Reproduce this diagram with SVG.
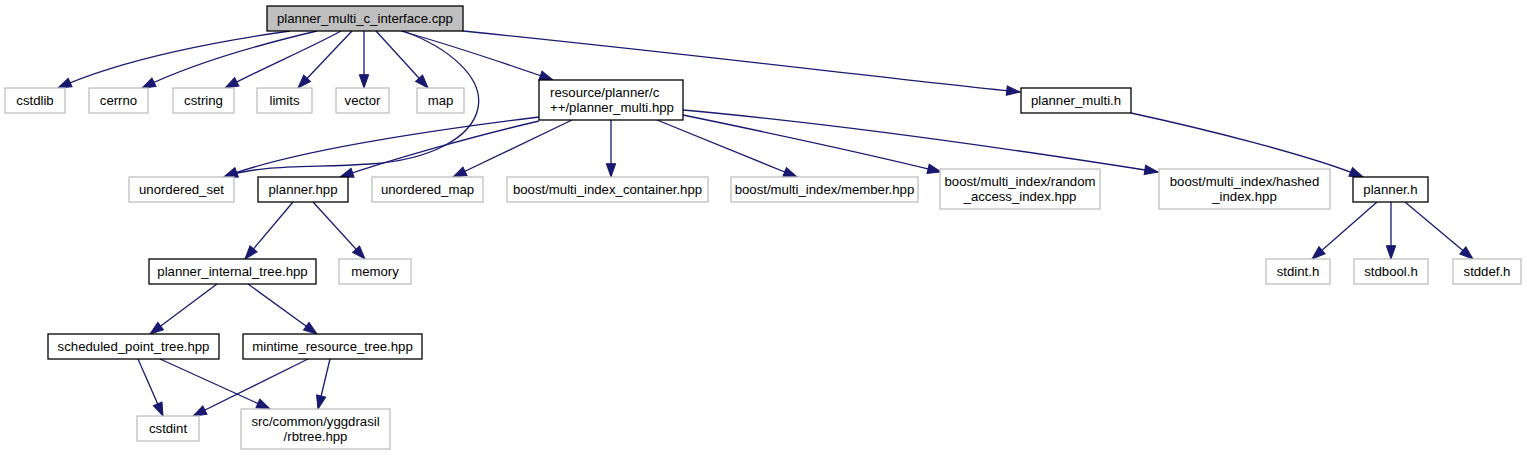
<svg xmlns="http://www.w3.org/2000/svg" width="1527" height="455" viewBox="0 0 1527 455">
<style>
text{font-family:"Liberation Sans",Arial,sans-serif;font-size:13.2px;fill:#000;text-anchor:middle}
.g{fill:#fff;stroke:#bfbfbf;stroke-width:1.3}
.b{fill:#fff;stroke:#000;stroke-width:1.3}
.r{fill:#bfbfbf;stroke:#000;stroke-width:1.3}
.e{fill:none;stroke:#191970;stroke-width:1.3;marker-end:url(#ah)}
</style>
<defs>
<marker id="ah" markerUnits="userSpaceOnUse" markerWidth="14" markerHeight="10" refX="13.3" refY="4.7" orient="auto" overflow="visible">
<path d="M0,0 L13.3,4.7 L0,9.4 z" fill="#191970" stroke="#191970" stroke-width="1"/>
</marker>
</defs>
<rect width="1527" height="455" fill="#fff"/>
<g id="edges">
<path class="e" d="M290,31 C225,40 125,58 58,88"/>
<path class="e" d="M317,31 C270,42 200,60 142,88"/>
<path class="e" d="M341,31 C310,48 265,67 225,88"/>
<path class="e" d="M352,31 L298,88"/>
<path class="e" d="M364,31 L364,88"/>
<path class="e" d="M376,31 L428,88"/>
<path class="e" d="M401,31 C450,45 510,65 553,80"/>
<path class="e" d="M403,31 C450,48 484,78 478,108 C472,138 430,160 370,164 C310,168 260,164 224,177"/>
<path class="e" d="M463,31 C700,55 900,80 1020,92"/>
<path class="e" d="M539,117 C450,128 300,148 224,177"/>
<path class="e" d="M539,121 C470,137 390,160 340,177"/>
<path class="e" d="M572,120 L453,177"/>
<path class="e" d="M611,120 L611,177"/>
<path class="e" d="M657,120 L797,177"/>
<path class="e" d="M683,115 C780,135 880,157 941,172"/>
<path class="e" d="M683,110 C850,125 1050,155 1158,172"/>
<path class="e" d="M1131,113 C1200,128 1310,155 1363,177"/>
<path class="e" d="M1377,202 L1312,259"/>
<path class="e" d="M1391,202 L1391,259"/>
<path class="e" d="M1405,202 L1473,259"/>
<path class="e" d="M293,202 L245,259"/>
<path class="e" d="M313,202 L365,259"/>
<path class="e" d="M217,284 L150,334"/>
<path class="e" d="M248,284 L317,334"/>
<path class="e" d="M138,359 L163,416"/>
<path class="e" d="M160,359 L270,409"/>
<path class="e" d="M308,359 L193,416"/>
<path class="e" d="M330,359 L318,409"/>
</g>
<g id="root"><rect class="r" x="267" y="6" width="196" height="25"/><text x="365" y="23">planner_multi_c_interface.cpp</text></g>
<g id="cstdlib"><rect class="g" x="5" y="88" width="60" height="25"/><text x="35" y="105">cstdlib</text></g>
<g id="cerrno"><rect class="g" x="89" y="88" width="59" height="25"/><text x="118.5" y="105">cerrno</text></g>
<g id="cstring"><rect class="g" x="173" y="88" width="61" height="25"/><text x="203.5" y="105">cstring</text></g>
<g id="limits"><rect class="g" x="257" y="88" width="55" height="25"/><text x="284.5" y="105">limits</text></g>
<g id="vector"><rect class="g" x="336" y="88" width="53" height="25"/><text x="362.5" y="105">vector</text></g>
<g id="map"><rect class="g" x="417" y="88" width="47" height="25"/><text x="440.5" y="105">map</text></g>
<g id="planner_multi_hpp"><rect class="b" x="539" y="80" width="144" height="40"/><text x="550" y="97.3" style="text-anchor:start">resource/planner/c</text><text x="550" y="111.8" style="text-anchor:start">++/planner_multi.hpp</text></g>
<g id="planner_multi_h"><rect class="b" x="1021" y="88" width="110" height="25"/><text x="1076" y="105">planner_multi.h</text></g>
<g id="unordered_set"><rect class="g" x="129" y="177" width="105" height="25"/><text x="181.5" y="194">unordered_set</text></g>
<g id="planner_hpp"><rect class="b" x="258" y="177" width="90" height="25"/><text x="303" y="194">planner.hpp</text></g>
<g id="unordered_map"><rect class="g" x="372" y="177" width="111" height="25"/><text x="427.5" y="194">unordered_map</text></g>
<g id="mic"><rect class="g" x="507" y="177" width="201" height="25"/><text x="607.5" y="194">boost/multi_index_container.hpp</text></g>
<g id="member"><rect class="g" x="731" y="177" width="187" height="25"/><text x="824.5" y="194">boost/multi_index/member.hpp</text></g>
<g id="random"><rect class="g" x="940" y="169" width="160" height="40"/><text x="1020" y="186.3">boost/multi_index/random</text><text x="1020" y="200.8">_access_index.hpp</text></g>
<g id="hashed"><rect class="g" x="1159" y="169" width="171" height="40"/><text x="1244.5" y="186.3">boost/multi_index/hashed</text><text x="1244.5" y="200.8">_index.hpp</text></g>
<g id="planner_h"><rect class="b" x="1353" y="177" width="75" height="25"/><text x="1390.5" y="194">planner.h</text></g>
<g id="pit"><rect class="b" x="149" y="259" width="167" height="25"/><text x="232.5" y="276">planner_internal_tree.hpp</text></g>
<g id="memory"><rect class="g" x="339" y="259" width="72" height="25"/><text x="375" y="276">memory</text></g>
<g id="stdint"><rect class="g" x="1266" y="259" width="64" height="25"/><text x="1298" y="276">stdint.h</text></g>
<g id="stdbool"><rect class="g" x="1354" y="259" width="74" height="25"/><text x="1391" y="276">stdbool.h</text></g>
<g id="stddef"><rect class="g" x="1453" y="259" width="68" height="25"/><text x="1487" y="276">stddef.h</text></g>
<g id="spt"><rect class="b" x="48" y="334" width="171" height="25"/><text x="133.5" y="351">scheduled_point_tree.hpp</text></g>
<g id="mrt"><rect class="b" x="243" y="334" width="179" height="25"/><text x="332.5" y="351">mintime_resource_tree.hpp</text></g>
<g id="cstdint"><rect class="g" x="137" y="416" width="62" height="25"/><text x="168" y="433">cstdint</text></g>
<g id="rbtree"><rect class="g" x="241" y="409" width="149" height="40"/><text x="315.5" y="426.3">src/common/yggdrasil</text><text x="315.5" y="440.8">/rbtree.hpp</text></g>
</svg>
